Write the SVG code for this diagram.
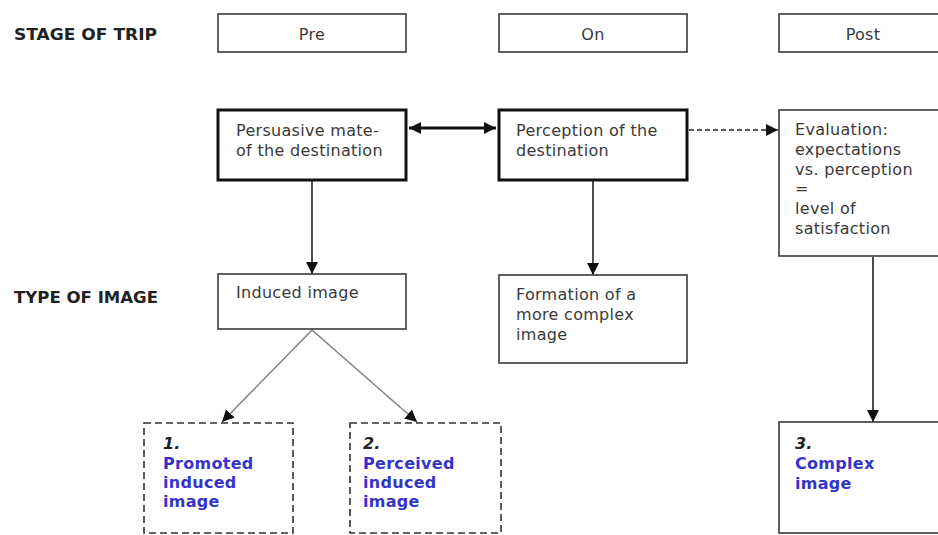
<svg xmlns="http://www.w3.org/2000/svg" width="938" height="535" viewBox="0 0 938 535">
  <style>
    .bg { fill: #ffffff; }
    .box { fill: #ffffff; stroke: #3a3a3a; stroke-width: 1.6; }
    .box-bold { fill: #ffffff; stroke: #111111; stroke-width: 3; }
    .box-dash { fill: #ffffff; stroke: #333333; stroke-width: 1.6; stroke-dasharray: 7 4; }
    .txt { font-family: "DejaVu Sans", Verdana, sans-serif; font-size: 16px; letter-spacing: 0.3px; fill: #3a3a3a; }
    .head { font-family: "DejaVu Sans", Verdana, sans-serif; font-size: 15px; font-weight: bold; fill: #222222; }
    .num { font-family: "DejaVu Sans", Verdana, sans-serif; font-size: 16px; font-weight: bold; font-style: italic; fill: #222222; }
    .blue { font-family: "DejaVu Sans", Verdana, sans-serif; font-size: 16px; font-weight: bold; letter-spacing: 0.3px; fill: #3535c8; }
    .link { fill: none; stroke: #222222; stroke-width: 1.6; }
    .link-bold { fill: none; stroke: #111111; stroke-width: 3; }
    .link-dash { fill: none; stroke: #222222; stroke-width: 1.5; stroke-dasharray: 5 3; }
    .link-grey { fill: none; stroke: #808080; stroke-width: 1.5; }
  </style>
  <defs>
    <marker id="arrow" viewBox="0 0 12 12" refX="12" refY="6" markerWidth="12" markerHeight="12" markerUnits="userSpaceOnUse" orient="auto">
      <path d="M0,0 L12,6 L0,12 Z" fill="#111111"/>
    </marker>
    <marker id="arrow-start" viewBox="0 0 12 12" refX="0" refY="6" markerWidth="12" markerHeight="12" markerUnits="userSpaceOnUse" orient="auto">
      <path d="M12,0 L0,6 L12,12 Z" fill="#111111"/>
    </marker>
  </defs>

  <rect class="bg" x="0" y="0" width="938" height="535"/>

  <!-- row labels -->
  <text class="head" x="14" y="40" textLength="143" lengthAdjust="spacingAndGlyphs">STAGE OF TRIP</text>
  <text class="head" x="14" y="303" textLength="144" lengthAdjust="spacingAndGlyphs">TYPE OF IMAGE</text>

  <!-- connectors -->
  <g id="connectors">
    <line class="link-bold" x1="409" y1="128" x2="496" y2="128" marker-start="url(#arrow-start)" marker-end="url(#arrow)"/>
    <line class="link-dash" x1="689" y1="130" x2="778" y2="130" marker-end="url(#arrow)"/>
    <line class="link" x1="312" y1="181" x2="312" y2="274" marker-end="url(#arrow)"/>
    <line class="link" x1="593" y1="181" x2="593" y2="275" marker-end="url(#arrow)"/>
    <line class="link" x1="873" y1="257" x2="873" y2="422" marker-end="url(#arrow)"/>
    <line class="link-grey" x1="312" y1="330" x2="222" y2="422" marker-end="url(#arrow)"/>
    <line class="link-grey" x1="312" y1="330" x2="417" y2="422" marker-end="url(#arrow)"/>
  </g>

  <!-- stage boxes -->
  <g id="stage-pre">
    <rect class="box" x="218" y="14" width="188" height="38"/>
    <text class="txt" x="312" y="40" text-anchor="middle">Pre</text>
  </g>
  <g id="stage-on">
    <rect class="box" x="499" y="14" width="188" height="38"/>
    <text class="txt" x="593" y="40" text-anchor="middle">On</text>
  </g>
  <g id="stage-post">
    <rect class="box" x="779" y="14" width="190" height="38"/>
    <text class="txt" x="863" y="40" text-anchor="middle">Post</text>
  </g>

  <!-- process boxes -->
  <g id="persuasive">
    <rect class="box-bold" x="218" y="110" width="188" height="70"/>
    <text class="txt" x="236" y="136">Persuasive mate-</text>
    <text class="txt" x="236" y="156">of the destination</text>
  </g>
  <g id="perception">
    <rect class="box-bold" x="499" y="110" width="188" height="70"/>
    <text class="txt" x="516" y="136">Perception of the</text>
    <text class="txt" x="516" y="156">destination</text>
  </g>
  <g id="evaluation">
    <rect class="box" x="779" y="110" width="190" height="146"/>
    <text class="txt" x="795" y="135">Evaluation:</text>
    <text class="txt" x="795" y="155">expectations</text>
    <text class="txt" x="795" y="175">vs. perception</text>
    <text class="txt" x="795" y="194">=</text>
    <text class="txt" x="795" y="214">level of</text>
    <text class="txt" x="795" y="234">satisfaction</text>
  </g>

  <!-- image boxes -->
  <g id="induced">
    <rect class="box" x="218" y="274" width="188" height="55"/>
    <text class="txt" x="236" y="298">Induced image</text>
  </g>
  <g id="formation">
    <rect class="box" x="499" y="275" width="188" height="88"/>
    <text class="txt" x="516" y="300">Formation of a</text>
    <text class="txt" x="516" y="320">more complex</text>
    <text class="txt" x="516" y="340">image</text>
  </g>

  <!-- resulting image types -->
  <g id="promoted">
    <rect class="box-dash" x="144" y="423" width="149" height="110"/>
    <text class="num" x="163" y="449">1.</text>
    <text class="blue" x="163" y="469">Promoted</text>
    <text class="blue" x="163" y="488">induced</text>
    <text class="blue" x="163" y="507">image</text>
  </g>
  <g id="perceived">
    <rect class="box-dash" x="350" y="423" width="151" height="110"/>
    <text class="num" x="363" y="449">2.</text>
    <text class="blue" x="363" y="469">Perceived</text>
    <text class="blue" x="363" y="488">induced</text>
    <text class="blue" x="363" y="507">image</text>
  </g>
  <g id="complex">
    <rect class="box" x="779" y="422" width="190" height="111"/>
    <text class="num" x="795" y="449">3.</text>
    <text class="blue" x="795" y="469">Complex</text>
    <text class="blue" x="795" y="489">image</text>
  </g>
</svg>
